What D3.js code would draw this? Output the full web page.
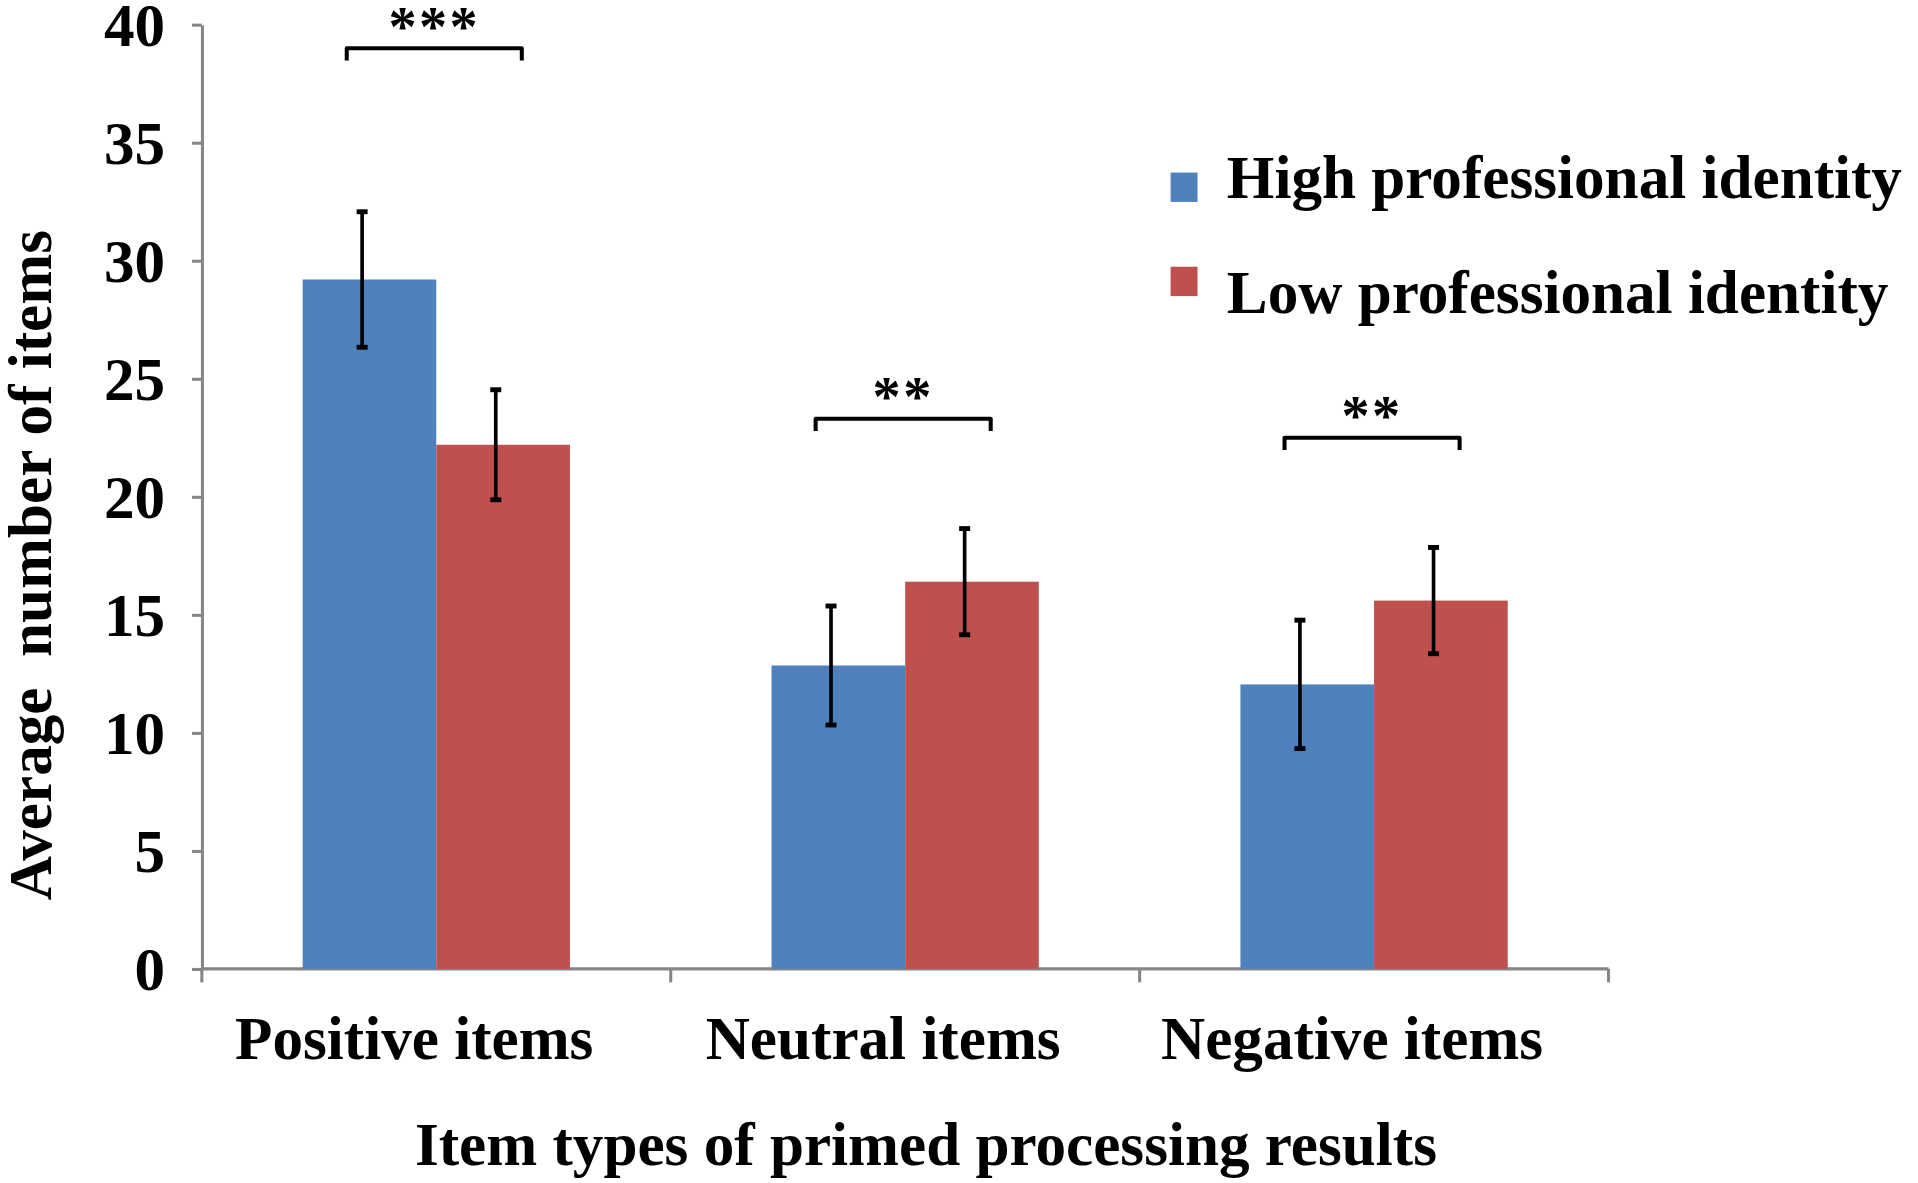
<!DOCTYPE html>
<html>
<head>
<meta charset="utf-8">
<script src="https://cdn.jsdelivr.net/npm/d3@7"></script>
<style>
  body { margin: 0; background: #fff; }
  text { font-family: 'Liberation Serif', 'Times New Roman', serif; font-weight: bold; fill: #000; }
</style>
</head>
<body>
<div id="chart"></div>
<script>
// Datos
const categories = ['Positive items', 'Neutral items', 'Negative items']
const seriesNames = ['High professional identity', 'Low professional identity']
const highMeans = [29.2, 12.85, 12.05]
const highErr   = [2.87, 2.52, 2.72]
const lowMeans  = [22.2, 16.4, 15.6]
const lowErr    = [2.33, 2.25, 2.25]
const sigLabels = ['***', '**', '**']
const sigLevel  = [39.0, 23.3, 22.5]
const yTicks    = [0, 5, 10, 15, 20, 25, 30, 35, 40]
const colors    = ['#4f81bd', '#c0504d']

// el dibujo se hace en coordenadas de 1568x967 y se escala a la ventana
const W = 1568, H = 967
const margin = { top: 20, left: 165, right: 253, bottom: 175 }
const ancho = W - margin.left - margin.right
const alto  = H - margin.top - margin.bottom

const svg = d3.select('#chart')
  .append('svg')
  .attr('width', 1918)
  .attr('height', 1183)
  .attr('viewBox', `0 0 ${W} ${H}`)

const g = svg.append('g')
  .attr('transform', `translate(${margin.left}, ${margin.top})`)

const x = d3.scaleBand().domain(categories).range([0, ancho]).padding(0)
const y = d3.scaleLinear().domain([0, 40]).range([alto, 0])
const barW = x.bandwidth() * 0.285

const gris = '#868686'

// Eje Y
const yAxis = g.append('g')
  .call(d3.axisLeft(y).tickValues(yTicks).tickSize(8).tickPadding(22).tickSizeOuter(0))
yAxis.select('.domain').attr('stroke', gris).attr('stroke-width', 2.5)
yAxis.selectAll('.tick line').attr('stroke', gris).attr('stroke-width', 2.5)
yAxis.selectAll('.tick text')
  .attr('font-size', 50)
  .attr('font-family', "'Liberation Serif', serif")
  .attr('dy', '0.34em')

// Eje X: marcas en los limites de cada categoria
g.append('line')
  .attr('x1', 0).attr('x2', ancho)
  .attr('y1', y(0)).attr('y2', y(0))
  .attr('stroke', gris).attr('stroke-width', 2.5)

const limites = categories.map(c => x(c)).concat([x(categories[categories.length - 1]) + x.bandwidth()])
g.selectAll('.xtick')
  .data(limites)
  .enter()
  .append('line')
  .attr('class', 'xtick')
  .attr('x1', d => d).attr('x2', d => d)
  .attr('y1', y(0)).attr('y2', y(0) + 11)
  .attr('stroke', gris).attr('stroke-width', 2.5)

g.selectAll('.xlabel')
  .data(categories)
  .enter()
  .append('text')
  .attr('class', 'xlabel')
  .attr('x', d => x(d) + x.bandwidth() / 2 - 18)
  .attr('y', alto + 74)
  .attr('text-anchor', 'middle')
  .attr('font-size', 50)
  .text(d => d)

// Barras
const filas = []
categories.forEach((c, i) => {
  filas.push({ cat: c, s: 0, v: highMeans[i], e: highErr[i] })
  filas.push({ cat: c, s: 1, v: lowMeans[i], e: lowErr[i] })
})

const xBar = d => x(d.cat) + x.bandwidth() / 2 - barW + d.s * barW

g.selectAll('rect.bar')
  .data(filas)
  .enter()
  .append('rect')
  .attr('class', 'bar')
  .attr('x', xBar)
  .attr('y', d => y(d.v))
  .attr('width', barW)
  .attr('height', d => y(0) - y(d.v))
  .attr('fill', d => colors[d.s])

// Barras de error
const xErr = d => xBar(d) + barW / 2 - 6
const err = g.selectAll('g.err')
  .data(filas)
  .enter()
  .append('g')
  .attr('class', 'err')
  .attr('stroke', '#000')
  .attr('stroke-width', 3)

err.append('line')
  .attr('x1', xErr).attr('x2', xErr)
  .attr('y1', d => y(d.v + d.e)).attr('y2', d => y(d.v - d.e))
err.append('line')
  .attr('x1', d => xErr(d) - 4.5).attr('x2', d => xErr(d) + 4.5)
  .attr('y1', d => y(d.v + d.e)).attr('y2', d => y(d.v + d.e))
  .attr('stroke-width', 4)
err.append('line')
  .attr('x1', d => xErr(d) - 4.5).attr('x2', d => xErr(d) + 4.5)
  .attr('y1', d => y(d.v - d.e)).attr('y2', d => y(d.v - d.e))
  .attr('stroke-width', 4)

// Corchetes de significancia
const sig = g.selectAll('g.sig')
  .data(categories.map((c, i) => ({ cat: c, lab: sigLabels[i], lvl: sigLevel[i] })))
  .enter()
  .append('g')
  .attr('class', 'sig')

const bx0 = d => x(d.cat) + x.bandwidth() / 2 - barW + barW * 0.33
const bx1 = d => x(d.cat) + x.bandwidth() / 2 - barW + barW * 1.64

sig.append('path')
  .attr('d', d => `M${bx0(d)},${y(d.lvl) + 10} L${bx0(d)},${y(d.lvl)} L${bx1(d)},${y(d.lvl)} L${bx1(d)},${y(d.lvl) + 10}`)
  .attr('fill', 'none')
  .attr('stroke', '#000')
  .attr('stroke-width', 3.3)
  .attr('stroke-linejoin', 'round')

sig.append('text')
  .attr('x', d => (bx0(d) + bx1(d)) / 2)
  .attr('y', d => y(d.lvl) - 2)
  .attr('text-anchor', 'middle')
  .attr('font-size', 46)
  .attr('font-weight', 'normal')
  .attr('letter-spacing', 2)
  .text(d => d.lab)

// Leyenda: los cuadros y los textos no guardan la misma separacion
const leyenda = svg.selectAll('g.leg')
  .data(seriesNames)
  .enter()
  .append('g')
  .attr('class', 'leg')

leyenda.append('rect')
  .attr('x', 957)
  .attr('y', (d, i) => 141 + i * 77)
  .attr('width', 22).attr('height', 24)
  .attr('fill', (d, i) => colors[i])

leyenda.append('text')
  .attr('x', 1003)
  .attr('y', (d, i) => 162 + i * 94)
  .attr('font-size', 50)
  .text(d => d)

// Titulos de ejes
svg.append('text')
  .attr('x', margin.left + ancho / 2 + 17)
  .attr('y', 952)
  .attr('text-anchor', 'middle')
  .attr('font-size', 50)
  .text('Item types of primed processing results')

svg.append('text')
  .attr('transform', `translate(42, ${margin.top + alto / 2 + 56}) rotate(-90)`)
  .attr('text-anchor', 'middle')
  .attr('font-size', 50)
  .style('white-space', 'pre')
  .text('Average  number of items')
</script>
</body>
</html>
